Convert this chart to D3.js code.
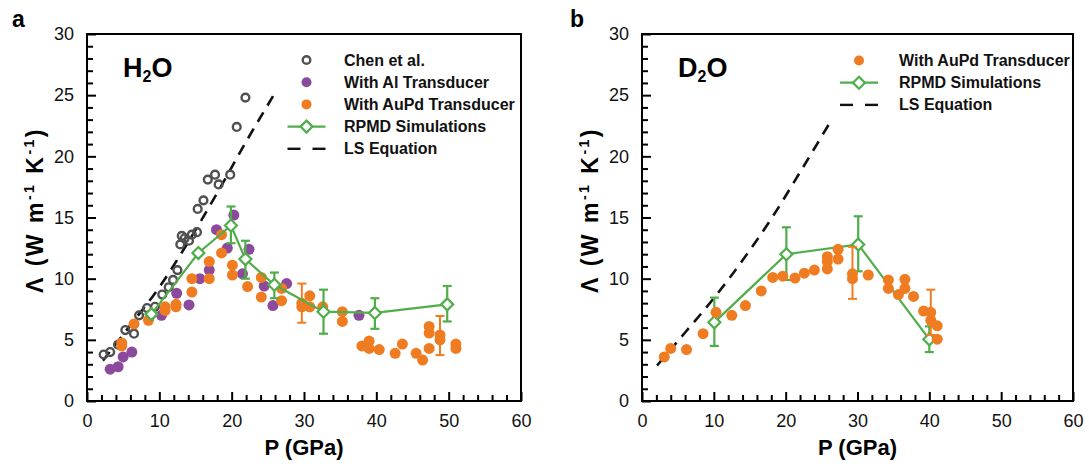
<!DOCTYPE html>
<html>
<head>
<meta charset="utf-8">
<script src="https://cdn.jsdelivr.net/npm/d3@7"></script>
<style>
  body { margin: 0; background: #fff; }
  text { font-family: "Liberation Sans", Arial, sans-serif; }
</style>
</head>
<body>
<svg id="chart" width="1089" height="471"></svg>
<script>
// ---------- H2O (panel a) ----------
// [P (GPa), Λ (W m^-1 K^-1)]
const chenH2O = [
  [2.3, 3.8], [3.2, 4.0], [4.3, 4.6], [5.3, 5.8], [6.5, 5.5], [7.2, 7.0], [8.3, 7.6],
  [9.4, 7.7], [10.4, 8.7], [11.3, 9.3], [11.9, 9.9], [12.5, 10.7], [12.9, 12.8],
  [13.1, 13.5], [13.5, 13.3], [14.1, 13.1], [14.5, 13.6], [15.2, 13.8], [15.3, 15.7],
  [16.1, 16.4], [16.7, 18.1], [17.7, 18.5], [18.2, 17.7], [19.8, 18.5], [20.7, 22.4],
  [21.9, 24.8]
];
const alH2O = [
  [3.2, 2.6], [4.3, 2.8], [5.0, 3.6], [6.2, 4.0], [10.3, 7.0], [12.4, 8.8], [14.1, 7.85],
  [15.6, 10.0], [16.9, 10.7], [17.9, 14.0], [19.4, 12.5], [20.3, 15.2], [21.5, 10.4],
  [22.4, 12.4], [24.5, 9.4], [25.7, 7.8], [27.6, 9.6], [37.6, 7.0]
];
const aupdH2O = [
  [4.8, 4.5], [4.8, 4.75], [6.5, 6.3], [8.5, 6.6], [10.8, 7.4], [10.8, 7.7], [12.3, 7.7],
  [12.3, 7.9], [14.5, 8.9], [14.5, 10.0], [16.9, 10.0], [16.9, 11.4], [18.6, 12.1],
  [18.6, 13.6], [20.1, 10.3], [20.1, 11.1], [22.2, 9.35], [24.1, 8.5], [24.1, 10.1],
  [26.9, 8.2], [26.9, 9.2], [29.7, 7.7], [29.7, 8.0], [30.8, 7.7], [30.8, 8.6], [32.6, 7.7],
  [35.3, 6.5], [35.3, 7.3], [38.0, 4.5], [39.0, 4.3], [39.0, 4.9], [40.4, 4.2], [42.6, 3.9],
  [43.6, 4.65], [45.5, 3.9], [46.4, 3.35], [47.3, 4.3], [47.3, 5.55], [47.3, 6.1],
  [48.8, 5.0], [48.8, 5.4], [51.0, 4.3], [51.0, 4.65]
];
// [P, Λ, lower, upper]
const aupdH2OErr = [[29.7, 8.0, 6.4, 9.6], [48.8, 5.2, 3.75, 6.95]];
const rpmdH2O = [
  [8.9, 7.1, null, null], [15.4, 12.1, null, null], [19.9, 14.35, 12.9, 15.9],
  [21.9, 11.6, 10.0, 13.1], [25.9, 9.5, 8.4, 10.5], [32.7, 7.3, 5.5, 9.1],
  [39.8, 7.2, 5.9, 8.4], [49.8, 7.9, 6.5, 9.4]
];
const lsH2O = [[2.2, 3.3], [6, 6.2], [10, 9.3], [14, 13.0], [18, 17.0], [22, 21.2], [25.9, 25.1]];

// ---------- D2O (panel b) ----------
const aupdD2O = [
  [3.1, 3.6], [4.0, 4.3], [6.2, 4.2], [8.5, 5.5], [10.3, 7.25], [12.5, 7.0], [14.4, 7.8],
  [16.6, 9.0], [18.2, 10.1], [19.6, 10.2], [21.3, 10.05], [22.6, 10.45], [24.0, 10.7],
  [25.8, 10.8], [25.8, 11.4], [25.8, 11.8], [27.3, 11.6], [27.3, 12.4], [29.3, 10.0],
  [29.3, 10.4], [31.5, 10.3], [34.3, 9.2], [34.3, 9.9], [35.7, 8.7], [36.6, 9.2],
  [36.6, 9.95], [37.8, 8.55], [39.2, 7.35], [40.2, 7.25], [40.2, 6.6], [41.1, 6.15],
  [41.1, 5.05]
];
const aupdD2OErr = [[29.3, 10.2, 8.35, 12.6], [40.2, 7.25, 5.4, 9.1]];
const rpmdD2O = [
  [10.07, 6.43, 4.5, 8.45], [20.1, 12.0, 9.9, 14.2], [30.1, 12.8, 10.6, 15.1], [40.0, 5.04, 4.0, 6.1]
];
const lsD2O = [[2.1, 2.9], [6, 5.6], [10, 8.4], [14, 11.5], [18, 14.9], [22, 18.7], [26.2, 22.8]];

// ---------- axes ----------
const xDomain = [0, 60];
const yDomain = [0, 30];
const xMajorTicks = [0, 10, 20, 30, 40, 50, 60];
const yMajorTicks = [0, 5, 10, 15, 20, 25, 30];
const xMinorTicks = d3.range(2, 60, 2).filter(v => v % 10 !== 0);
const yMinorTicks = d3.range(1, 30, 1).filter(v => v % 5 !== 0);

const COLORS = {
  chen: "#505050",
  al: "#8B4A9C",
  aupd: "#F07C22",
  rpmd: "#4FAE4A",
  ls: "#111"
};

const svg = d3.select("#chart");

function diamondPath(cx, cy, r) {
  return `M${cx},${cy - r}L${cx + r},${cy}L${cx},${cy + r}L${cx - r},${cy}Z`;
}

function drawPanel(cfg) {
  const g = svg.append("g");
  const x = d3.scaleLinear().domain(xDomain).range([cfg.left, cfg.right]);
  const y = d3.scaleLinear().domain(yDomain).range([401, 34]);

  // ticks (inward)
  const styleAxis = sel => {
    sel.select(".domain").remove();
    sel.selectAll(".tick line").attr("stroke", "#000").attr("stroke-width", 2);
    sel.selectAll(".tick text").attr("font-size", 18).attr("fill", "#111")
      .style("font-family", '"Liberation Sans", Arial, sans-serif');
  };
  g.append("g").attr("transform", "translate(0,401)")
    .call(d3.axisBottom(x).tickValues(xMinorTicks).tickSize(-6).tickFormat(""))
    .call(styleAxis);
  g.append("g").attr("transform", "translate(0,401)")
    .call(d3.axisBottom(x).tickValues(xMajorTicks).tickSize(-9).tickPadding(13).tickFormat(d3.format("d")))
    .call(styleAxis);
  g.append("g").attr("transform", `translate(${cfg.left},0)`)
    .call(d3.axisLeft(y).tickValues(yMinorTicks).tickSize(-6).tickFormat(""))
    .call(styleAxis);
  g.append("g").attr("transform", `translate(${cfg.left},0)`)
    .call(d3.axisLeft(y).tickValues(yMajorTicks).tickSize(-9).tickPadding(13).tickFormat(d3.format("d")))
    .call(styleAxis);

  // frame
  g.append("rect")
    .attr("x", x(0)).attr("y", y(30))
    .attr("width", x(60) - x(0)).attr("height", y(0) - y(30))
    .attr("fill", "none").attr("stroke", "#000").attr("stroke-width", 2);

  // axis titles
  g.append("text")
    .attr("x", (x(0) + x(60)) / 2).attr("y", 455)
    .attr("text-anchor", "middle").attr("font-size", 22).attr("font-weight", "bold")
    .text("P (GPa)");

  const yl = g.append("text")
    .attr("transform", `translate(${cfg.left - 44},210) rotate(-90)`)
    .attr("text-anchor", "middle").attr("font-size", 23).attr("font-weight", "bold")
    .attr("letter-spacing", 2.5);
  yl.append("tspan").text("Λ (W m");
  yl.append("tspan").attr("font-size", 14).attr("dy", -9).text("-1");
  yl.append("tspan").attr("dy", 9).text(" K");
  yl.append("tspan").attr("font-size", 14).attr("dy", -9).text("-1");
  yl.append("tspan").attr("dy", 9).text(")");

  // panel letter
  g.append("text").attr("x", cfg.letterX).attr("y", 27)
    .attr("font-size", 23).attr("font-weight", "bold").text(cfg.letter);

  // substance label
  const sl = g.append("text").attr("x", x(0) + 36).attr("y", 77)
    .attr("font-size", 27).attr("font-weight", "bold");
  sl.append("tspan").text(cfg.sub[0]);
  sl.append("tspan").attr("font-size", 16).attr("dy", 5).text("2");
  sl.append("tspan").attr("dy", -5).text("O");

  const layers = {};

  layers.ls = () => {
    g.append("path").datum(cfg.ls)
      .attr("d", d3.line().x(d => x(d[0])).y(d => y(d[1])).curve(d3.curveMonotoneX))
      .attr("fill", "none").attr("stroke", COLORS.ls).attr("stroke-width", 2.6)
      .attr("stroke-dasharray", "11,8");
  };

  layers.chen = () => {
    if (!cfg.chen) return;
    g.append("g").selectAll("circle").data(cfg.chen).join("circle")
      .attr("cx", d => x(d[0])).attr("cy", d => y(d[1])).attr("r", 3.9)
      .attr("fill", "none").attr("stroke", COLORS.chen).attr("stroke-width", 2.4);
  };

  layers.al = () => {
    if (!cfg.al) return;
    g.append("g").selectAll("circle").data(cfg.al).join("circle")
      .attr("cx", d => x(d[0])).attr("cy", d => y(d[1])).attr("r", 5.5)
      .attr("fill", COLORS.al);
  };

  layers.aupd = () => {
    const eg = g.append("g").attr("stroke", COLORS.aupd).attr("stroke-width", 2);
    cfg.aupdErr.forEach(d => {
      eg.append("line").attr("x1", x(d[0])).attr("x2", x(d[0])).attr("y1", y(d[2])).attr("y2", y(d[3]));
      eg.append("line").attr("x1", x(d[0]) - 4.5).attr("x2", x(d[0]) + 4.5).attr("y1", y(d[2])).attr("y2", y(d[2]));
      eg.append("line").attr("x1", x(d[0]) - 4.5).attr("x2", x(d[0]) + 4.5).attr("y1", y(d[3])).attr("y2", y(d[3]));
    });
    g.append("g").selectAll("circle").data(cfg.aupd).join("circle")
      .attr("cx", d => x(d[0])).attr("cy", d => y(d[1])).attr("r", 5.5)
      .attr("fill", COLORS.aupd);
  };

  layers.rpmd = () => {
    const rg = g.append("g");
    rg.append("path").datum(cfg.rpmd)
      .attr("d", d3.line().x(d => x(d[0])).y(d => y(d[1])))
      .attr("fill", "none").attr("stroke", COLORS.rpmd).attr("stroke-width", 2.2);
    const eg = rg.append("g").attr("stroke", COLORS.rpmd).attr("stroke-width", 2.2);
    cfg.rpmd.filter(d => d[2] !== null).forEach(d => {
      eg.append("line").attr("x1", x(d[0])).attr("x2", x(d[0])).attr("y1", y(d[2])).attr("y2", y(d[3]));
      eg.append("line").attr("x1", x(d[0]) - 4.5).attr("x2", x(d[0]) + 4.5).attr("y1", y(d[2])).attr("y2", y(d[2]));
      eg.append("line").attr("x1", x(d[0]) - 4.5).attr("x2", x(d[0]) + 4.5).attr("y1", y(d[3])).attr("y2", y(d[3]));
    });
    rg.append("g").selectAll("path").data(cfg.rpmd).join("path")
      .attr("d", d => diamondPath(x(d[0]), y(d[1]), 6))
      .attr("fill", "#fff").attr("stroke", COLORS.rpmd).attr("stroke-width", 2.2);
  };

  cfg.order.forEach(k => layers[k]());

  // legend
  const lg = g.append("g");
  cfg.legend.forEach((item, i) => {
    const cy = cfg.legendY + i * 22.2;
    const sx = cfg.legendSymX;
    if (item.type === "open") {
      lg.append("circle").attr("cx", sx).attr("cy", cy).attr("r", 3.8)
        .attr("fill", "none").attr("stroke", COLORS.chen).attr("stroke-width", 2.4);
    } else if (item.type === "dot") {
      lg.append("circle").attr("cx", sx).attr("cy", cy).attr("r", 5)
        .attr("fill", COLORS[item.key]);
    } else if (item.type === "rpmd") {
      lg.append("line").attr("x1", sx - 19).attr("x2", sx + 19).attr("y1", cy).attr("y2", cy)
        .attr("stroke", COLORS.rpmd).attr("stroke-width", 2.2);
      lg.append("path").attr("d", diamondPath(sx, cy, 6))
        .attr("fill", "#fff").attr("stroke", COLORS.rpmd).attr("stroke-width", 2.2);
    } else if (item.type === "ls") {
      lg.append("line").attr("x1", sx - 19).attr("x2", sx - 6).attr("y1", cy).attr("y2", cy)
        .attr("stroke", COLORS.ls).attr("stroke-width", 2.4);
      lg.append("line").attr("x1", sx + 6).attr("x2", sx + 19).attr("y1", cy).attr("y2", cy)
        .attr("stroke", COLORS.ls).attr("stroke-width", 2.4);
    }
    lg.append("text").attr("x", cfg.legendTextX).attr("y", cy + 5.5)
      .attr("font-size", 16).attr("font-weight", "bold").attr("fill", "#111")
      .text(item.label);
  });
}

drawPanel({
  left: 87, right: 521, letter: "a", letterX: 12, sub: ["H"],
  chen: chenH2O, al: alH2O, aupd: aupdH2O, aupdErr: aupdH2OErr, rpmd: rpmdH2O, ls: lsH2O,
  order: ["ls", "chen", "al", "aupd", "rpmd"],
  legendY: 60, legendSymX: 306.5, legendTextX: 344,
  legend: [
    { type: "open", label: "Chen et al." },
    { type: "dot", key: "al", label: "With Al Transducer" },
    { type: "dot", key: "aupd", label: "With AuPd Transducer" },
    { type: "rpmd", label: "RPMD Simulations" },
    { type: "ls", label: "LS Equation" }
  ]
});

drawPanel({
  left: 642, right: 1073, letter: "b", letterX: 570, sub: ["D"],
  aupd: aupdD2O, aupdErr: aupdD2OErr, rpmd: rpmdD2O, ls: lsD2O,
  order: ["ls", "rpmd", "aupd"],
  legendY: 60.5, legendSymX: 859, legendTextX: 899,
  legend: [
    { type: "dot", key: "aupd", label: "With AuPd Transducer" },
    { type: "rpmd", label: "RPMD Simulations" },
    { type: "ls", label: "LS Equation" }
  ]
});
</script>
</body>
</html>
